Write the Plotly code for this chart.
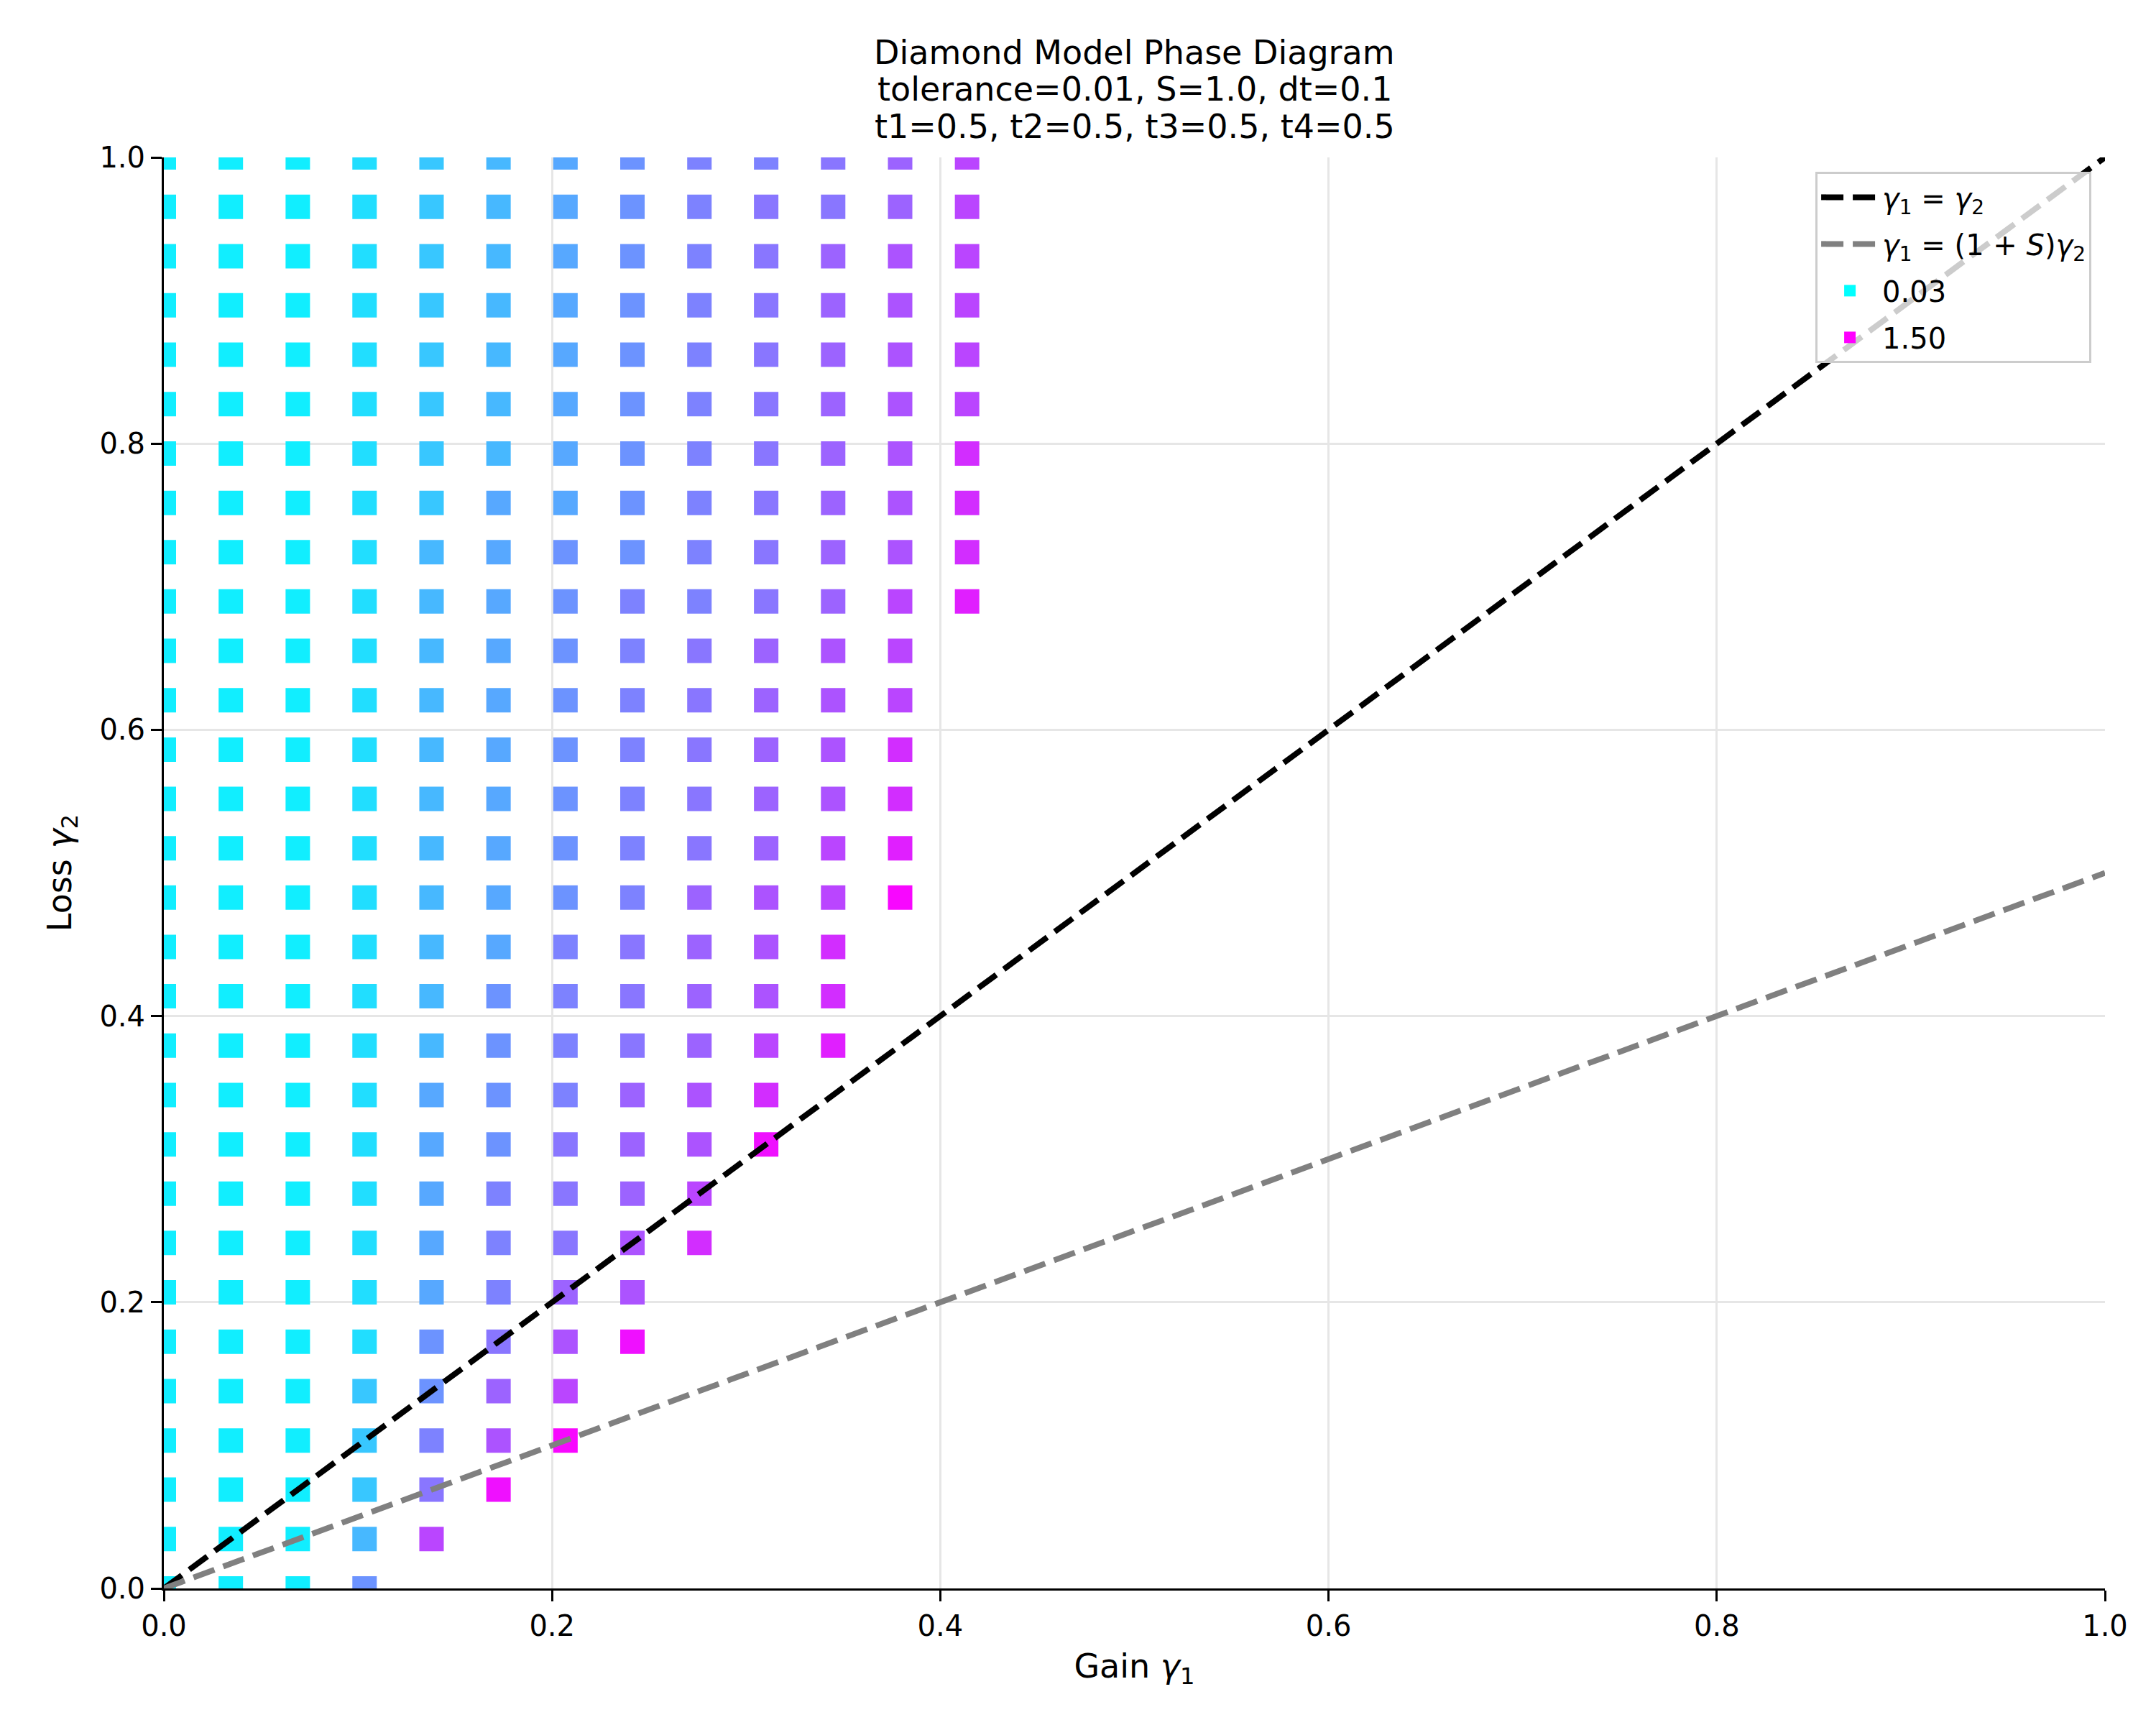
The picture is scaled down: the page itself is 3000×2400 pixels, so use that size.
import plotly.graph_objects as go

# ---- data ----
# grid of gain (gamma_1) columns and loss (gamma_2) rows
gain_grid = [0.0, 0.0345, 0.0690, 0.1034, 0.1379, 0.1724, 0.2069, 0.2414,
             0.2759, 0.3103, 0.3448, 0.3793, 0.4138]
loss_grid = [0.0, 0.0345, 0.0690, 0.1034, 0.1379, 0.1724, 0.2069, 0.2414,
             0.2759, 0.3103, 0.3448, 0.3793, 0.4138, 0.4483, 0.4828, 0.5172,
             0.5517, 0.5862, 0.6207, 0.6552, 0.6897, 0.7241, 0.7586, 0.7931,
             0.8276, 0.8621, 0.8966, 0.9310, 0.9655, 1.0]

# values per gain column, listed from loss=0 upward (None = no point)
N_ = None
col_00 = [0.13, 0.13, 0.13, 0.13, 0.13, 0.13, 0.13, 0.13, 0.13, 0.13,
          0.13, 0.13, 0.13, 0.13, 0.13, 0.13, 0.13, 0.13, 0.13, 0.13,
          0.13, 0.13, 0.13, 0.13, 0.13, 0.13, 0.13, 0.13, 0.13, 0.13]
col_01 = [0.13, 0.13, 0.13, 0.13, 0.13, 0.13, 0.13, 0.13, 0.13, 0.13,
          0.13, 0.13, 0.13, 0.13, 0.13, 0.13, 0.13, 0.13, 0.13, 0.13,
          0.13, 0.13, 0.13, 0.13, 0.13, 0.13, 0.13, 0.13, 0.13, 0.13]
col_02 = [0.13, 0.13, 0.13, 0.13, 0.13, 0.13, 0.13, 0.13, 0.13, 0.13,
          0.13, 0.13, 0.13, 0.13, 0.13, 0.13, 0.13, 0.13, 0.13, 0.13,
          0.13, 0.13, 0.13, 0.13, 0.13, 0.13, 0.13, 0.13, 0.13, 0.13]
col_03 = [0.65, 0.44, 0.35, 0.35, 0.35, 0.22, 0.22, 0.22, 0.22, 0.22,
          0.22, 0.22, 0.22, 0.22, 0.22, 0.22, 0.22, 0.22, 0.22, 0.22,
          0.22, 0.22, 0.22, 0.22, 0.22, 0.22, 0.22, 0.22, 0.22, 0.22]
col_04 = [N_, 1.10, 0.82, 0.75, 0.65, 0.65, 0.53, 0.53, 0.53, 0.53,
          0.53, 0.44, 0.44, 0.44, 0.44, 0.44, 0.44, 0.44, 0.44, 0.44,
          0.44, 0.44, 0.35, 0.35, 0.35, 0.35, 0.35, 0.35, 0.35, 0.35]
col_05 = [N_, N_, 1.41, 1.02, 0.93, 0.82, 0.75, 0.75, 0.75, 0.65,
          0.65, 0.65, 0.65, 0.53, 0.53, 0.53, 0.53, 0.53, 0.53, 0.53,
          0.53, 0.53, 0.53, 0.44, 0.44, 0.44, 0.44, 0.44, 0.44, 0.44]
col_06 = [N_, N_, N_, 1.46, 1.10, 1.02, 0.93, 0.82, 0.82, 0.82,
          0.75, 0.75, 0.75, 0.75, 0.65, 0.65, 0.65, 0.65, 0.65, 0.65,
          0.65, 0.65, 0.53, 0.53, 0.53, 0.53, 0.53, 0.53, 0.53, 0.53]
col_07 = [N_, N_, N_, N_, N_, 1.41, 1.02, 1.02, 0.93, 0.93,
          0.93, 0.82, 0.82, 0.82, 0.75, 0.75, 0.75, 0.75, 0.75, 0.75,
          0.75, 0.65, 0.65, 0.65, 0.65, 0.65, 0.65, 0.65, 0.65, 0.65]
col_08 = [N_, N_, N_, N_, N_, N_, N_, 1.24, 1.10, 1.02,
          1.02, 0.93, 0.93, 0.93, 0.93, 0.82, 0.82, 0.82, 0.82, 0.82,
          0.75, 0.75, 0.75, 0.75, 0.75, 0.75, 0.75, 0.75, 0.75, 0.75]
col_09 = [N_, N_, N_, N_, N_, N_, N_, N_, N_, 1.41,
          1.24, 1.10, 1.02, 1.02, 1.02, 0.93, 0.93, 0.93, 0.93, 0.93,
          0.82, 0.82, 0.82, 0.82, 0.82, 0.82, 0.82, 0.82, 0.82, 0.75]
col_10 = [N_, N_, N_, N_, N_, N_, N_, N_, N_, N_,
          N_, 1.32, 1.24, 1.24, 1.10, 1.10, 1.02, 1.02, 1.02, 1.02,
          0.93, 0.93, 0.93, 0.93, 0.93, 0.93, 0.93, 0.93, 0.82, 0.82]
col_11 = [N_, N_, N_, N_, N_, N_, N_, N_, N_, N_,
          N_, N_, N_, N_, 1.46, 1.32, 1.24, 1.24, 1.10, 1.10,
          1.10, 1.02, 1.02, 1.02, 1.02, 1.02, 1.02, 1.02, 0.93, 0.93]
col_12 = [N_, N_, N_, N_, N_, N_, N_, N_, N_, N_,
          N_, N_, N_, N_, N_, N_, N_, N_, N_, N_,
          1.32, 1.24, 1.24, 1.24, 1.10, 1.10, 1.10, 1.10, 1.10, 1.10]

columns = [col_00, col_01, col_02, col_03, col_04, col_05, col_06,
           col_07, col_08, col_09, col_10, col_11, col_12]

value_min = 0.03
value_max = 1.50
legend_labels = ["0.03", "1.50"]
title_lines = ["Diamond Model Phase Diagram",
               "tolerance=0.01, S=1.0, dt=0.1",
               "t1=0.5, t2=0.5, t3=0.5, t4=0.5"]
S = 1.0
line_x = [0.0, 1.0]

# ---- build figure ----
xs, ys, cs = [], [], []
for g, col in zip(gain_grid, columns):
    for l, v in zip(loss_grid, col):
        if v is not None:
            xs.append(g)
            ys.append(l)
            cs.append(v)

cool = [[0.0, "rgb(0,255,255)"], [1.0, "rgb(255,0,255)"]]
FONT = "DejaVu Sans"

fig = go.Figure()
fig.add_trace(go.Scatter(
    x=xs, y=ys, mode="markers", showlegend=False, cliponaxis=True,
    marker=dict(symbol="square", size=34, color=cs, colorscale=cool,
                cmin=value_min, cmax=value_max, showscale=False,
                line=dict(width=0)),
))
fig.add_trace(go.Scatter(
    x=line_x, y=[v for v in line_x], mode="lines", legendgroup="a",
    name="<i>γ</i><sub>1</sub> = <i>γ</i><sub>2</sub>",
    line=dict(color="black", width=8, dash="31px,13px"),
))
fig.add_trace(go.Scatter(
    x=line_x, y=[v / (1 + S) for v in line_x], mode="lines", legendgroup="b",
    name="<i>γ</i><sub>1</sub> = (1 + <i>S</i>)<i>γ</i><sub>2</sub>",
    line=dict(color="#808080", width=8, dash="31px,13px"),
))
fig.add_trace(go.Scatter(
    x=[None], y=[None], mode="markers", name=legend_labels[0], legendgroup="c",
    marker=dict(symbol="square", size=30, color="rgb(0,255,255)"),
))
fig.add_trace(go.Scatter(
    x=[None], y=[None], mode="markers", name=legend_labels[1], legendgroup="d",
    marker=dict(symbol="square", size=30, color="rgb(255,0,255)"),
))

axis_common = dict(
    range=[0, 1], tick0=0, dtick=0.2, tickformat=".1f",
    showline=True, linecolor="black", linewidth=3, mirror=False,
    ticks="outside", ticklen=15, tickwidth=3, tickcolor="black",
    showgrid=True, gridcolor="#e6e6e6", gridwidth=3, zeroline=False,
    tickfont=dict(family=FONT, size=40, color="black"),
)

# title as three centred lines above the plot area
title_shifts = [146, 95, 43]
annotations = [
    dict(text=t, xref="paper", yref="paper", x=0.5, y=1, xanchor="center",
         yanchor="middle", yshift=s, showarrow=False,
         font=dict(family=FONT, size=46, color="black"))
    for t, s in zip(title_lines, title_shifts)
]

fig.update_layout(
    width=3000, height=2400,
    margin=dict(l=220, r=79, t=211, b=198, autoexpand=False),
    paper_bgcolor="white", plot_bgcolor="white",
    font=dict(family=FONT, color="black"),
    annotations=annotations,
    xaxis=dict(axis_common, title=dict(text="Gain <i>γ</i><sub>1</sub>",
               standoff=18, font=dict(family=FONT, size=46))),
    yaxis=dict(axis_common, title=dict(text="Loss <i>γ</i><sub>2</sub>",
               standoff=25, font=dict(family=FONT, size=46))),
    legend=dict(x=0.993, y=0.990, xanchor="right", yanchor="top",
                bgcolor="rgba(255,255,255,0.8)", bordercolor="#cccccc",
                borderwidth=3, font=dict(family=FONT, size=40, color="black"),
                tracegroupgap=10, itemwidth=80),
)

fig.write_html("out.html")
